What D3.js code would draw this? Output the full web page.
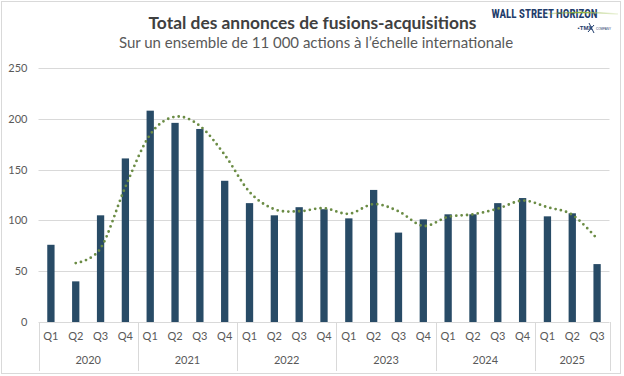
<!DOCTYPE html>
<html><head><meta charset="utf-8">
<script src="https://cdn.jsdelivr.net/npm/d3@7"></script>
<style>body{margin:0;background:#fff}svg{display:block}</style>
</head><body><svg id="c" width="624" height="376"></svg>
<script>
const years = ["2020","2021","2022","2023","2024","2025"];
const quarters = ["Q1","Q2","Q3","Q4","Q1","Q2","Q3","Q4","Q1","Q2","Q3","Q4","Q1","Q2","Q3","Q4","Q1","Q2","Q3","Q4","Q1","Q2","Q3"];
const yearOfPoint = [0,0,0,0,1,1,1,1,2,2,2,2,3,3,3,3,4,4,4,4,5,5,5];
const deals = [76,40,105,161,208,196,190,139,117,105,113,111,102,130,88,101,106,106,117,122,104,107,57];
// 2-period moving average trend (first point empty)
const trend = [null,58,72.5,133,184.5,202,193,164.5,128,111,109,112,106.5,116,109,94.5,103.5,106,111.5,119.5,113,105.5,82];
const yTicks = [0,50,100,150,200,250];
const title = "Total des annonces de fusions-acquisitions";
const subtitle = "Sur un ensemble de 11 000 actions à l’échelle internationale";

const svg = d3.select("#c");
const font = "Lato, 'Open Sans', sans-serif";
const idx = d3.range(deals.length);
const x = d3.scaleBand().domain(idx).range([38.5, 609.5]).paddingInner(0.706).paddingOuter(0.353);
const y = d3.scaleLinear().domain([0,250]).range([322, 68]);
const step = x.step();

// outer border
svg.append("rect").attr("x",1.5).attr("y",1.5).attr("width",619).attr("height",372)
  .attr("fill","#fff").attr("stroke","#d9d9d9");

// title
svg.append("text").attr("x",312.5).attr("y",28.5).attr("text-anchor","middle")
  .attr("font-family",font).attr("font-weight","bold").attr("font-size",17.4).attr("fill","#404040").text(title);
svg.append("text").attr("x",316).attr("y",48).attr("text-anchor","middle")
  .attr("font-family",font).attr("font-size",15).attr("fill","#595959").text(subtitle);

// logo
const logo = svg.append("g");
logo.append("text").attr("x",491.5).attr("y",18).attr("font-family","'Liberation Sans Narrow','Roboto Condensed','Liberation Sans',sans-serif")
  .attr("font-weight","bold").attr("font-size",13).attr("fill","#1f3d6b")
  .attr("textLength",106).attr("lengthAdjust","spacingAndGlyphs").text("WALL STREET HORIZON");
const grad = svg.append("defs").append("linearGradient").attr("id","sw").attr("x1","0").attr("x2","1");
grad.append("stop").attr("offset","0").attr("stop-color","#8db33a").attr("stop-opacity",0.2);
grad.append("stop").attr("offset","0.5").attr("stop-color","#8db33a");
grad.append("stop").attr("offset","1").attr("stop-color","#c8dc9a").attr("stop-opacity",0.3);
logo.append("path").attr("d","M545,14 Q580,11 618,14").attr("stroke","url(#sw)").attr("stroke-width",1.5).attr("fill","none");
logo.append("text").attr("x",585).attr("y",30).attr("text-anchor","middle").attr("font-family","'Liberation Sans',sans-serif")
  .attr("font-weight","bold").attr("font-size",6).attr("fill","#1f3d6b").text("•TMX");
logo.append("path").attr("d","M589,23 L594,33 M594,25 L588,32").attr("stroke","#1f3d6b").attr("stroke-width",1).attr("fill","none");
logo.append("text").attr("x",596).attr("y",30).attr("font-family","'Liberation Sans',sans-serif")
  .attr("font-size",3).attr("fill","#1f3d6b").text("COMPANY");

// gridlines
svg.append("g").selectAll("line").data(yTicks.filter(d=>d>0)).join("line")
  .attr("x1",38.5).attr("x2",609.5).attr("y1",d=>Math.round(y(d))+0.5).attr("y2",d=>Math.round(y(d))+0.5)
  .attr("stroke","#d9d9d9").attr("stroke-width",1);

// y axis labels via d3 axis
const yAxis = svg.append("g").attr("transform","translate(38.5,0)")
  .call(d3.axisLeft(y).tickValues(yTicks).tickSize(0).tickPadding(11));
yAxis.select(".domain").remove();
yAxis.selectAll("text").attr("font-family",font).attr("font-size",11).attr("fill","#595959");

// bars
svg.append("g").selectAll("rect").data(deals).join("rect")
  .attr("x",(d,i)=>x(i)).attr("width",x.bandwidth())
  .attr("y",d=>y(d)).attr("height",d=>y(0)-y(d)).attr("fill","#284b66");

// x axis line
svg.append("line").attr("x1",38.5).attr("x2",609.5).attr("y1",322.5).attr("y2",322.5).attr("stroke","#d9d9d9");

// quarter labels
const xAxis = svg.append("g").attr("transform","translate(0,322)")
  .call(d3.axisBottom(x).tickFormat(i=>quarters[i]).tickSize(0).tickPadding(10));
xAxis.select(".domain").remove();
xAxis.selectAll("text").attr("font-family",font).attr("font-size",11).attr("fill","#595959");

// year separators and labels
const yearStarts = years.map((yr,k)=>yearOfPoint.indexOf(k));
const bounds = yearStarts.map(i=>x(i)-(step-x.bandwidth())/2).concat([609.5]);
svg.append("g").selectAll("line").data(bounds).join("line")
  .attr("x1",d=>Math.round(d)+0.5).attr("x2",d=>Math.round(d)+0.5).attr("y1",322).attr("y2",371)
  .attr("stroke","#d9d9d9");
svg.append("g").selectAll("text").data(years).join("text")
  .attr("x",(d,k)=>(bounds[k]+bounds[k+1])/2).attr("y",364).attr("text-anchor","middle")
  .attr("font-family",font).attr("font-size",11).attr("fill","#595959").text(d=>d);

// trend line
const line = d3.line().defined(d=>d!=null).x((d,i)=>x(i)+x.bandwidth()/2).y(d=>y(d)).curve(d3.curveCardinal.tension(0));
svg.append("path").datum(trend).attr("d",line).attr("fill","none")
  .attr("stroke","#6b8c45").attr("stroke-width",2.8).attr("stroke-linecap","round").attr("stroke-dasharray","0 5.4");
</script></body></html>
